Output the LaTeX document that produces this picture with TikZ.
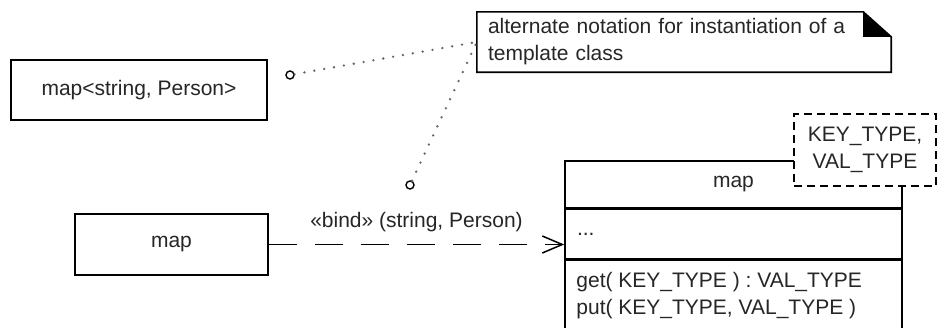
\documentclass[tikz,border=0pt]{standalone}
\usepackage{fontspec}
\setmainfont{Liberation Sans}
\usetikzlibrary{positioning,arrows.meta,calc}

\newcommand{\umlfont}{\fontsize{21}{27}\selectfont}

\begin{document}
\begin{tikzpicture}[x=1pt, y=-1pt,
    every node/.style={font=\umlfont, text=black!85},
    classbox/.style={draw, line width=1.6pt, inner sep=0pt},
    tparam/.style={draw, fill=white, dash pattern=on 8pt off 5pt, line width=1.6pt,
        align=center, minimum width=142pt, minimum height=72pt, inner sep=0pt},
    pin/.style={draw, circle, line width=1.4pt, minimum size=8pt, inner sep=0pt},
    dotline/.style={line width=2.6pt, dash pattern=on 0pt off 10pt, line cap=round, black!60},
    bindarrow/.style={line width=1.5pt, dash pattern=on 28pt off 18pt,
        -{Straight Barb[length=20pt, width=17pt, line width=1.5pt]}}]
    \useasboundingbox[fill=white] (0,0) rectangle (938,327);

    % Instantiated class
    \node[classbox, minimum width=256pt, minimum height=60pt] (inst) at (139,90) {map<string, Person>};

    % Bound class
    \node[classbox, minimum width=193pt, minimum height=61pt] (tmpl) at (171.5,244.5) {map};

    % Template class with compartments
    \node[classbox, minimum width=337pt, minimum height=47pt] (cls) at (733.5,184.5) {map};
    \node[classbox, minimum width=337pt, minimum height=49pt, text width=313pt, align=left,
        inner xsep=12pt, below=0pt of cls] (attrs) {...};
    \node[classbox, minimum width=337pt, minimum height=90pt, below=0pt of attrs] (ops) {};
    \node[anchor=north west, align=left, inner xsep=12pt, inner ysep=13pt] (opstext)
        at (ops.north west) {get( KEY\_TYPE ) : VAL\_TYPE\\put( KEY\_TYPE, VAL\_TYPE )};

    % Template parameters
    \node[tparam] (params) at (865,150) {KEY\_TYPE,\\VAL\_TYPE};

    % Note with folded corner
    \node[minimum width=414pt, minimum height=60pt, text width=392pt, inner xsep=11pt,
        inner ysep=0pt, align=left] (note) at (684,42)
        {alternate notation for instantiation of a\\template class};
    \draw[line width=1.6pt] (note.north west) -- ($(note.north east)+(-28,0)$)
        -- ($(note.north east)+(0,25)$) -- (note.south east) -- (note.south west) -- cycle;
    \fill ($(note.north east)+(-28,0)$) -- ($(note.north east)+(-28,25)$)
        -- ($(note.north east)+(0,25)$) -- cycle;

    % Note anchors
    \node[pin] (pin1) at (290,75) {};
    \node[pin] (pin2) at (410,185) {};
    \draw[dotline] (pin1) -- (note.west);
    \draw[dotline] (pin2) -- (note.west);

    % Binding dependency
    \draw[bindarrow] (tmpl.east) -- (tmpl.east -| cls.west)
        node[midway, above=9pt] {«bind» (string, Person)};
\end{tikzpicture}
\end{document}
